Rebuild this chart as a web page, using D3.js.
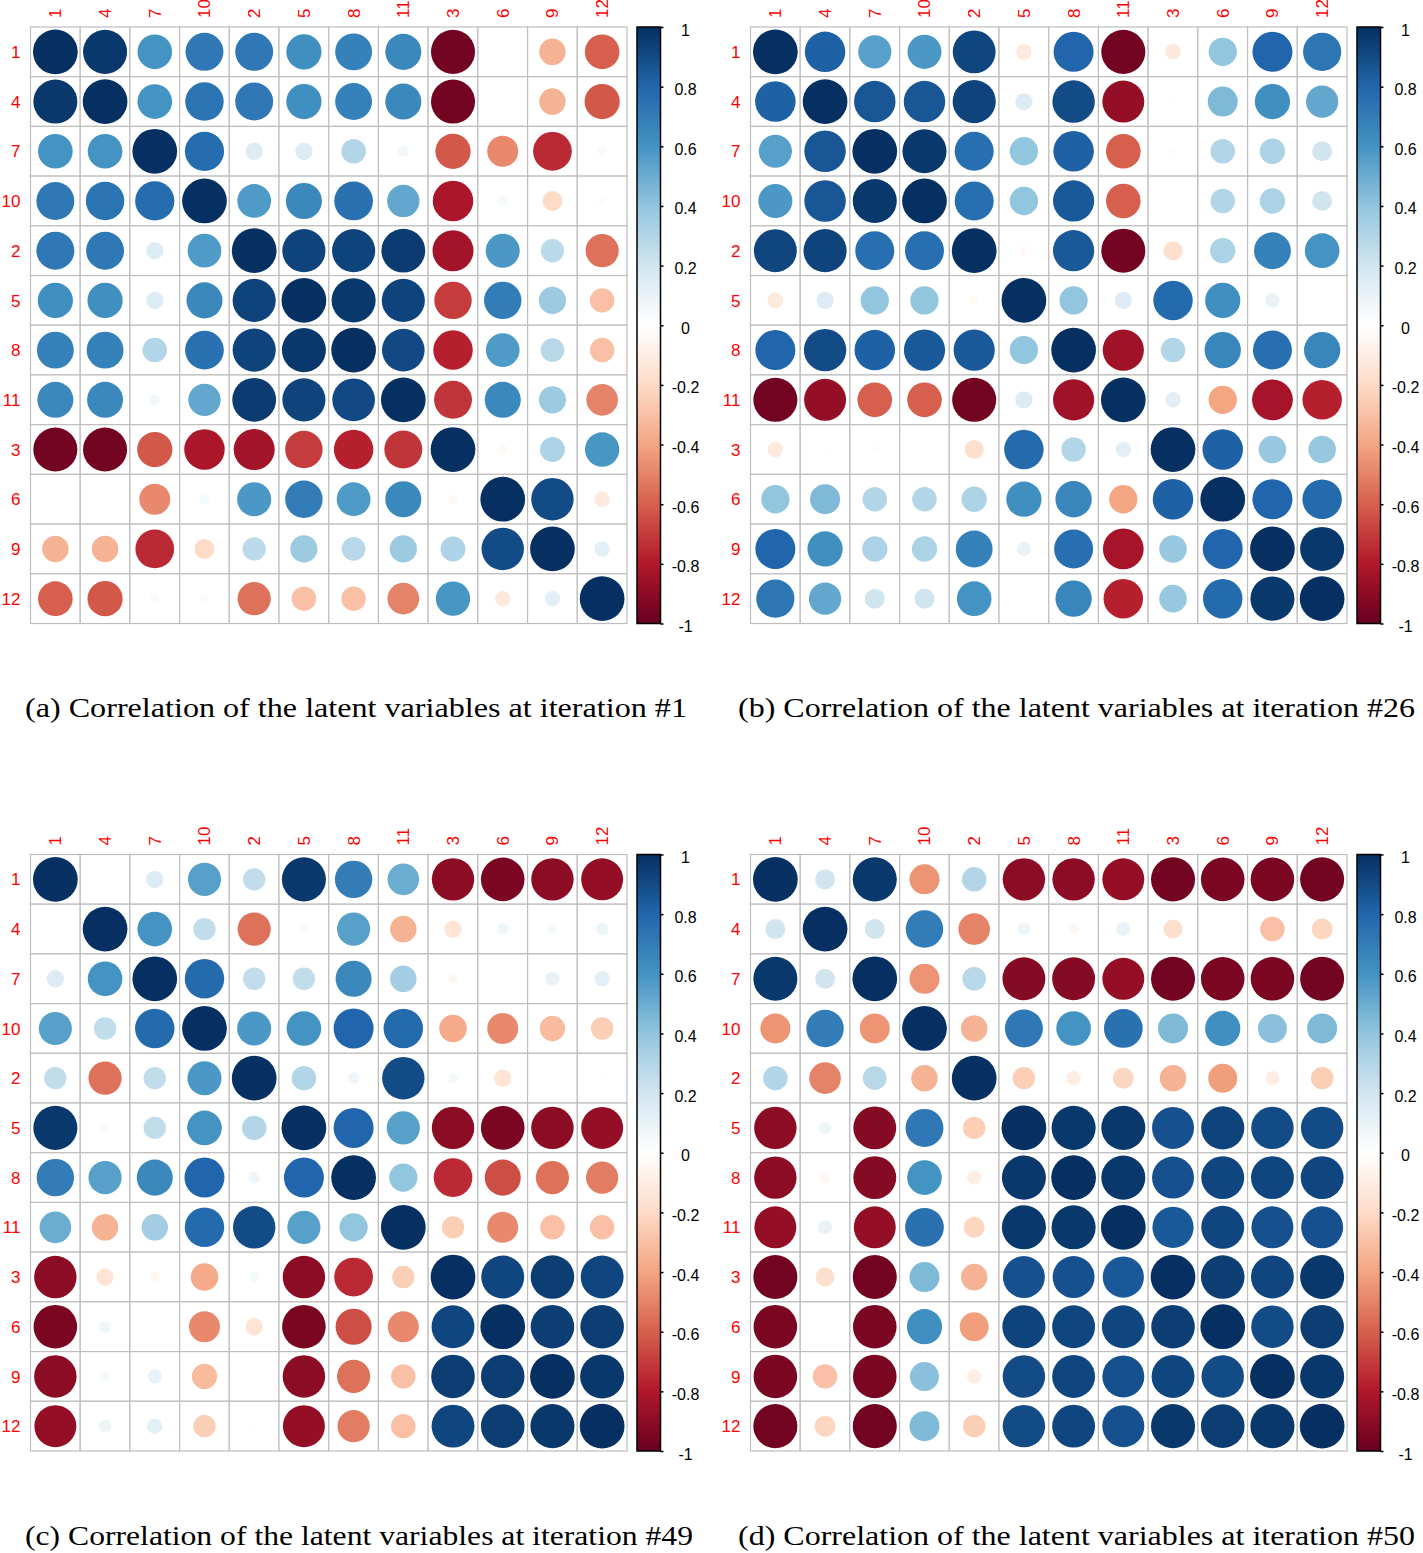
<!DOCTYPE html>
<html>
<head>
<meta charset="utf-8">
<script src="https://cdn.jsdelivr.net/npm/d3@7"></script>
<style>
  body { margin: 0; background: #fff; }
  svg { display: block; }
</style>
</head>
<body>
<div id="chart"></div>
<script>
// variable order used on both axes (corrplot hclust order)
var labels = ["1", "4", "7", "10", "2", "5", "8", "11", "3", "6", "9", "12"];

// correlation matrices, rows/cols in the order above
var corrA = [
  [ 1.00,  0.97,  0.60,  0.72,  0.72,  0.62,  0.68,  0.65, -0.97,  0.00, -0.35, -0.60],
  [ 0.97,  1.00,  0.60,  0.74,  0.72,  0.62,  0.68,  0.65, -0.97,  0.01, -0.35, -0.62],
  [ 0.60,  0.60,  1.00,  0.77,  0.15,  0.15,  0.30,  0.06, -0.62, -0.48, -0.75,  0.04],
  [ 0.72,  0.74,  0.77,  1.00,  0.57,  0.65,  0.75,  0.52, -0.82,  0.05, -0.20, -0.03],
  [ 0.72,  0.72,  0.15,  0.57,  1.00,  0.93,  0.93,  0.96, -0.84,  0.58,  0.27, -0.55],
  [ 0.62,  0.62,  0.15,  0.65,  0.93,  1.00,  0.97,  0.93, -0.70,  0.70,  0.37, -0.30],
  [ 0.68,  0.68,  0.30,  0.75,  0.93,  0.97,  1.00,  0.91, -0.78,  0.57,  0.28, -0.30],
  [ 0.65,  0.65,  0.06,  0.52,  0.96,  0.93,  0.91,  1.00, -0.72,  0.65,  0.37, -0.50],
  [-0.97, -0.97, -0.62, -0.82, -0.84, -0.70, -0.78, -0.72,  1.00, -0.04,  0.31,  0.59],
  [ 0.00,  0.01, -0.48,  0.05,  0.58,  0.70,  0.57,  0.65, -0.04,  1.00,  0.90, -0.12],
  [-0.35, -0.35, -0.75, -0.20,  0.27,  0.37,  0.28,  0.37,  0.31,  0.90,  1.00,  0.12],
  [-0.60, -0.62,  0.04, -0.03, -0.55, -0.30, -0.30, -0.50,  0.59, -0.12,  0.12,  1.00]
];

var corrB = [
  [ 1.00,  0.82,  0.55,  0.58,  0.92, -0.12,  0.80, -0.97, -0.12,  0.40,  0.80,  0.73],
  [ 0.82,  1.00,  0.86,  0.86,  0.93,  0.15,  0.90, -0.88, -0.01,  0.45,  0.62,  0.52],
  [ 0.55,  0.86,  1.00,  0.97,  0.76,  0.40,  0.82, -0.60, -0.02,  0.30,  0.32,  0.20],
  [ 0.58,  0.86,  0.97,  1.00,  0.76,  0.40,  0.85, -0.60,  0.00,  0.30,  0.32,  0.20],
  [ 0.92,  0.93,  0.76,  0.76,  1.00, -0.04,  0.85, -0.97, -0.18,  0.32,  0.68,  0.60],
  [-0.12,  0.15,  0.40,  0.40, -0.04,  1.00,  0.40,  0.15,  0.78,  0.62,  0.10,  0.01],
  [ 0.80,  0.90,  0.82,  0.85,  0.85,  0.40,  1.00, -0.85,  0.30,  0.66,  0.76,  0.66],
  [-0.97, -0.88, -0.60, -0.60, -0.97,  0.15, -0.85,  1.00,  0.12, -0.40, -0.83, -0.78],
  [-0.12, -0.01, -0.02,  0.00, -0.18,  0.78,  0.30,  0.12,  1.00,  0.82,  0.38,  0.38],
  [ 0.40,  0.45,  0.30,  0.30,  0.32,  0.62,  0.66, -0.40,  0.82,  1.00,  0.80,  0.78],
  [ 0.80,  0.62,  0.32,  0.32,  0.68,  0.10,  0.76, -0.83,  0.38,  0.80,  1.00,  0.97],
  [ 0.73,  0.52,  0.20,  0.20,  0.60,  0.01,  0.66, -0.78,  0.38,  0.78,  0.97,  1.00]
];

var corrC = [
  [ 1.00,  0.00,  0.15,  0.55,  0.25,  0.97,  0.70,  0.50, -0.90, -0.95, -0.90, -0.88],
  [ 0.00,  1.00,  0.60,  0.25, -0.55,  0.04,  0.55, -0.35, -0.15,  0.07,  0.05,  0.08],
  [ 0.15,  0.60,  1.00,  0.78,  0.25,  0.25,  0.65,  0.35, -0.05,  0.00,  0.10,  0.12],
  [ 0.55,  0.25,  0.78,  1.00,  0.58,  0.60,  0.80,  0.78, -0.38, -0.48, -0.32, -0.25],
  [ 0.25, -0.55,  0.25,  0.58,  1.00,  0.30,  0.07,  0.90,  0.05, -0.15,  0.00, -0.01],
  [ 0.97,  0.04,  0.25,  0.60,  0.30,  1.00,  0.80,  0.55, -0.90, -0.95, -0.90, -0.88],
  [ 0.70,  0.55,  0.65,  0.80,  0.07,  0.80,  1.00,  0.40, -0.75, -0.65, -0.55, -0.52],
  [ 0.50, -0.35,  0.35,  0.78,  0.90,  0.55,  0.40,  1.00, -0.25, -0.48, -0.30, -0.30],
  [-0.90, -0.15, -0.05, -0.38,  0.05, -0.90, -0.75, -0.25,  1.00,  0.92,  0.95,  0.92],
  [-0.95,  0.07,  0.00, -0.48, -0.15, -0.95, -0.65, -0.48,  0.92,  1.00,  0.95,  0.95],
  [-0.90,  0.05,  0.10, -0.32,  0.00, -0.90, -0.55, -0.30,  0.95,  0.95,  1.00,  0.97],
  [-0.88,  0.08,  0.12, -0.25, -0.01, -0.88, -0.52, -0.30,  0.92,  0.95,  0.97,  1.00]
];

var corrD = [
  [ 1.00,  0.20,  0.97, -0.45,  0.30, -0.90, -0.90, -0.88, -0.97, -0.95, -0.95, -0.97],
  [ 0.20,  1.00,  0.20,  0.70, -0.50,  0.08, -0.05,  0.10, -0.18,  0.00, -0.30, -0.22],
  [ 0.97,  0.20,  1.00, -0.45,  0.28, -0.92, -0.92, -0.88, -0.97, -0.95, -0.95, -0.97],
  [-0.45,  0.70, -0.45,  1.00, -0.35,  0.72,  0.60,  0.75,  0.45,  0.62,  0.42,  0.45],
  [ 0.30, -0.50,  0.28, -0.35,  1.00, -0.25, -0.10, -0.22, -0.35, -0.42, -0.10, -0.25],
  [-0.90,  0.08, -0.92,  0.72, -0.25,  1.00,  0.97,  0.97,  0.88,  0.93,  0.90,  0.90],
  [-0.90, -0.05, -0.92,  0.60, -0.10,  0.97,  1.00,  0.97,  0.88,  0.92,  0.92,  0.92],
  [-0.88,  0.10, -0.88,  0.75, -0.22,  0.97,  0.97,  1.00,  0.85,  0.92,  0.88,  0.88],
  [-0.97, -0.18, -0.97,  0.45, -0.35,  0.88,  0.88,  0.85,  1.00,  0.95,  0.92,  0.97],
  [-0.95,  0.00, -0.95,  0.62, -0.42,  0.93,  0.92,  0.92,  0.95,  1.00,  0.90,  0.95],
  [-0.95, -0.30, -0.95,  0.42, -0.10,  0.90,  0.92,  0.88,  0.92,  0.90,  1.00,  0.97],
  [-0.97, -0.22, -0.97,  0.45, -0.25,  0.90,  0.92,  0.88,  0.97,  0.95,  0.97,  1.00]
];

var legendTicks = [1, 0.8, 0.6, 0.4, 0.2, 0, -0.2, -0.4, -0.6, -0.8, -1];

var captions = [
  "(a) Correlation of the latent variables at iteration #1",
  "(b) Correlation of the latent variables at iteration #26",
  "(c) Correlation of the latent variables at iteration #49",
  "(d) Correlation of the latent variables at iteration #50"
];

// RdBu ramp used by corrplot
var rampDomain = [-1, -0.8, -0.6, -0.4, -0.2, 0, 0.2, 0.4, 0.6, 0.8, 1];
var rampColors = ["#67001F", "#B2182B", "#D6604D", "#F4A582", "#FDDBC7", "#FFFFFF",
                  "#D1E5F0", "#92C5DE", "#4393C3", "#2166AC", "#053061"];

var W = 1423, H = 1553;
var gridSize = 596.5;

var panels = [
  { data: corrA, caption: captions[0], x: 30.5,  y: 27,    capX: 25,  capY: 717,  capW: 662 },
  { data: corrB, caption: captions[1], x: 750.5, y: 27,    capX: 738, capY: 717,  capW: 677 },
  { data: corrC, caption: captions[2], x: 30.5,  y: 854.5, capX: 25,  capY: 1545, capW: 668 },
  { data: corrD, caption: captions[3], x: 750.5, y: 854.5, capX: 738, capY: 1545, capW: 677 }
];

var color = d3.scaleLinear()
  .domain(rampDomain)
  .range(rampColors)
  .interpolate(d3.interpolateRgb);

var svg = d3.select("#chart")
  .append("svg")
  .attr("width", W)
  .attr("height", H);

svg.append("rect")
  .attr("width", W)
  .attr("height", H)
  .attr("fill", "#fff");

var defs = svg.append("defs");
var grad = defs.append("linearGradient")
  .attr("id", "ramp")
  .attr("x1", 0).attr("y1", 1)
  .attr("x2", 0).attr("y2", 0);
grad.selectAll("stop")
  .data(rampDomain)
  .enter()
  .append("stop")
  .attr("offset", function(d) { return (d + 1) / 2; })
  .attr("stop-color", function(d) { return color(d); });

panels.forEach(function(p) {
  var g = svg.append("g")
    .attr("transform", "translate(" + p.x + "," + p.y + ")");

  var xScale = d3.scaleBand().domain(labels).range([0, gridSize]);
  var yScale = d3.scaleBand().domain(labels).range([0, gridSize]);
  var bw = xScale.bandwidth();

  var cells = [];
  p.data.forEach(function(row, i) {
    row.forEach(function(v, j) {
      cells.push({ row: labels[i], col: labels[j], value: v });
    });
  });

  // grid
  g.selectAll(".cell")
    .data(cells)
    .enter()
    .append("rect")
    .attr("class", "cell")
    .attr("x", function(d) { return xScale(d.col); })
    .attr("y", function(d) { return yScale(d.row); })
    .attr("width", bw)
    .attr("height", bw)
    .attr("fill", "#fff")
    .attr("stroke", "#BEBEBE")
    .attr("stroke-width", 1.2);

  // circles: area proportional to |r|
  g.selectAll(".dot")
    .data(cells)
    .enter()
    .append("circle")
    .attr("class", "dot")
    .attr("cx", function(d) { return xScale(d.col) + bw / 2; })
    .attr("cy", function(d) { return yScale(d.row) + bw / 2; })
    .attr("r", function(d) { return 0.9 * Math.sqrt(Math.abs(d.value)) / 2 * bw; })
    .attr("fill", function(d) { return color(d.value); });

  // row labels
  g.selectAll(".rowLabel")
    .data(labels)
    .enter()
    .append("text")
    .attr("class", "rowLabel")
    .attr("x", -10)
    .attr("y", function(d) { return yScale(d) + bw / 2; })
    .attr("dy", "0.36em")
    .attr("text-anchor", "end")
    .attr("font-family", "Liberation Sans, Arial, sans-serif")
    .attr("font-size", 17)
    .attr("fill", "#FF0000")
    .text(function(d) { return d; });

  // column labels, rotated
  g.selectAll(".colLabel")
    .data(labels)
    .enter()
    .append("text")
    .attr("class", "colLabel")
    .attr("transform", function(d) {
      return "translate(" + (xScale(d) + bw / 2 + 6) + "," + (-9) + ") rotate(-90)";
    })
    .attr("text-anchor", "start")
    .attr("font-family", "Liberation Sans, Arial, sans-serif")
    .attr("font-size", 17)
    .attr("fill", "#FF0000")
    .text(function(d) { return d; });

  // colour legend
  var lg = g.append("g")
    .attr("transform", "translate(" + 606.5 + ",0)");
  var legendY = d3.scaleLinear().domain([1, -1]).range([0, gridSize]);

  lg.append("rect")
    .attr("x", 0)
    .attr("y", 0)
    .attr("width", 23.5)
    .attr("height", gridSize)
    .attr("fill", "url(#ramp)")
    .attr("stroke", "#000")
    .attr("stroke-width", 1.5);

  var axis = d3.axisRight(legendY)
    .tickValues(legendTicks)
    .tickSize(3)
    .tickSizeOuter(0)
    .tickFormat(function(d) { return String(d); });

  var ax = lg.append("g")
    .attr("transform", "translate(23.5,0)")
    .call(axis);
  ax.select(".domain").remove();
  ax.selectAll("line").attr("stroke-width", 1.5);
  ax.selectAll("text")
    .attr("x", 25)
    .attr("dy", "0.5em")
    .attr("text-anchor", "middle")
    .attr("font-family", "Liberation Sans, Arial, sans-serif")
    .attr("font-size", 16)
    .attr("fill", "#000");

  // caption
  svg.append("text")
    .attr("x", p.capX)
    .attr("y", p.capY)
    .attr("font-family", "Liberation Serif, Times New Roman, serif")
    .attr("font-size", 27)
    .attr("textLength", p.capW)
    .attr("lengthAdjust", "spacingAndGlyphs")
    .attr("fill", "#000")
    .text(p.caption);
});
</script>
</body>
</html>
